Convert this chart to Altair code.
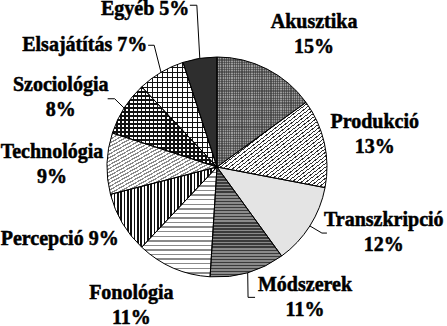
import altair as alt
import pandas as pd

# ---- data ----
categories = ["Akusztika", "Produkció", "Transzkripció", "Módszerek", "Fonológia",
              "Percepció", "Technológia", "Szociológia", "Elsajátítás", "Egyéb"]
shares = [15, 13, 12, 11, 11, 9, 9, 8, 7, 5]

# ---- styling / layout ----
label_sep = ["\n", "\n", "\n", "\n", "\n", " ", "\n", "\n", " ", " "]
label_dtheta = [9.3, 1.1, -11.1, -17.9, 8.3, 6.0, -0.8, -8.5, -16.7, -15.4]
label_r = [164, 161, 179, 157, 163, 173, 165, 171, 180, 174]
leader = [0, 0, 1, 1, 0, 0, 0, 1, 1, 1]
leader_dtheta = [0, 0, -0.2, 2.8, 0, 0, 0, 1.3, 3.3, 1.9]
leader_r = [0, 0, 124, 134, 0, 0, 0, 123, 137, 163]
leader_hdx = [0, 0, 5, 7, 0, 0, 0, -7, -6, -7]

CX, CY, R = 217, 167, 110
LH = 25
CLEAR = "rgba(0,0,0,0)"


def stripes(x2, y2, n, ink, paper, frac):
    """hatch-like fill built from hard gradient stops"""
    stops = []
    for k in range(n):
        a, b, c = k / n, (k + frac) / n, (k + 1) / n
        stops += [{"offset": a, "color": ink}, {"offset": b, "color": ink},
                  {"offset": b, "color": paper}, {"offset": c, "color": paper}]
    return {"gradient": "linear", "x1": 0, "y1": 0, "x2": x2, "y2": y2, "stops": stops}


fills = [
    stripes(1, 0, 40, "#5e5e5e", "#9c9c9c", 0.5),   # Akusztika: fine grey grid
    stripes(1, 1, 46, "#303030", "#ffffff", 0.3),   # Produkció: diagonal hatch
    "#e4e4e4",                                      # Transzkripció: dots
    stripes(0, 1, 36, "#3a3a3a", "#8a8a8a", 0.5),   # Módszerek: dark horizontal
    stripes(0, 1, 24, "#8a8a8a", "#ffffff", 0.3),   # Fonológia: dashes
    stripes(1, 0, 32, "#111111", "#ffffff", 0.45),  # Percepció: vertical stripes
    stripes(1, 1, 34, "#8a8a8a", "#ffffff", 0.4),   # Technológia: waves
    stripes(1, 0, 26, "#111111", "#ffffff", 0.45),  # Szociológia: checker
    stripes(1, 0, 15, "#111111", "#ffffff", 0.22),  # Elsajátítás: grid
    "#2e2e2e",                                      # Egyéb
]
overlays = [
    stripes(0, 1, 46, "rgba(50,50,50,0.5)", CLEAR, 0.5),
    CLEAR, CLEAR, CLEAR, CLEAR, CLEAR, CLEAR,
    stripes(0, 1, 20, "#111111", CLEAR, 0.45),
    stripes(0, 1, 21, "#111111", CLEAR, 0.22),
    CLEAR,
]

df = pd.DataFrame({
    "cat": categories, "value": shares, "idx": list(range(len(categories))),
    "sep": label_sep, "ldt": label_dtheta, "lr": label_r,
    "lead": leader, "edt": leader_dtheta, "er": leader_r, "ehx": leader_hdx,
})

base = alt.Chart(df)


def fill_of(styles):
    return {
        "condition": [{"test": f"datum.idx == {i}", "value": f} for i, f in enumerate(styles)],
        "value": CLEAR,
    }


pie_enc = dict(
    theta=alt.Theta("value:Q", stack=True),
    order=alt.Order("idx:Q"),
    x=alt.value(CX), y=alt.value(CY),
)
pie = base.mark_arc(outerRadius=R, strokeWidth=0).encode(fill=fill_of(fills), **pie_enc)
pie2 = base.mark_arc(outerRadius=R, stroke="black", strokeWidth=1).encode(
    fill=fill_of(overlays), **pie_enc)

geo = base.transform_window(
    cum="sum(value)", sort=[alt.SortField("idx")], frame=[None, 0]
).transform_joinaggregate(
    total="sum(value)"
).transform_calculate(
    mid="(datum.cum - datum.value/2) / datum.total * 2 * PI",
).transform_calculate(
    la="datum.mid + datum.ldt * PI / 180",
    ea="datum.mid + datum.edt * PI / 180",
).transform_calculate(
    lx=f"{CX} + datum.lr * sin(datum.la)",
    ly=f"{CY} - datum.lr * cos(datum.la) - (datum.sep == ' ' ? 0 : {LH / 2})",
    sx=f"{CX} + {R} * sin(datum.mid)",
    sy=f"{CY} - {R} * cos(datum.mid)",
    ex=f"{CX} + datum.er * sin(datum.ea)",
    ey=f"{CY} - datum.er * cos(datum.ea)",
    label="datum.cat + datum.sep + datum.value + '%'",
)

labels = geo.mark_text(
    font="Liberation Serif", fontWeight="bold", fontSize=20, lineHeight=LH,
    lineBreak="\n", align="center", baseline="middle", color="black",
    stroke="black", strokeWidth=0.5,
).encode(
    x=alt.X("lx:Q", scale=None), y=alt.Y("ly:Q", scale=None), text="label:N",
)

leads = geo.transform_filter("datum.lead == 1")
seg1 = leads.mark_rule(color="black", strokeWidth=1).encode(
    x=alt.X("sx:Q", scale=None), y=alt.Y("sy:Q", scale=None),
    x2="ex:Q", y2="ey:Q",
)
seg2 = leads.transform_calculate(hx="datum.ex + datum.ehx").mark_rule(
    color="black", strokeWidth=1
).encode(
    x=alt.X("ex:Q", scale=None), y=alt.Y("ey:Q", scale=None),
    x2="hx:Q", y2="ey:Q",
)

chart = alt.layer(pie, pie2, seg1, seg2, labels).properties(
    width=447, height=326, padding=0, autosize=alt.AutoSizeParams(type="none"),
    background="white",
).configure_view(stroke=None)

chart.save("out.html", embed_options={"renderer": "svg", "actions": False})
